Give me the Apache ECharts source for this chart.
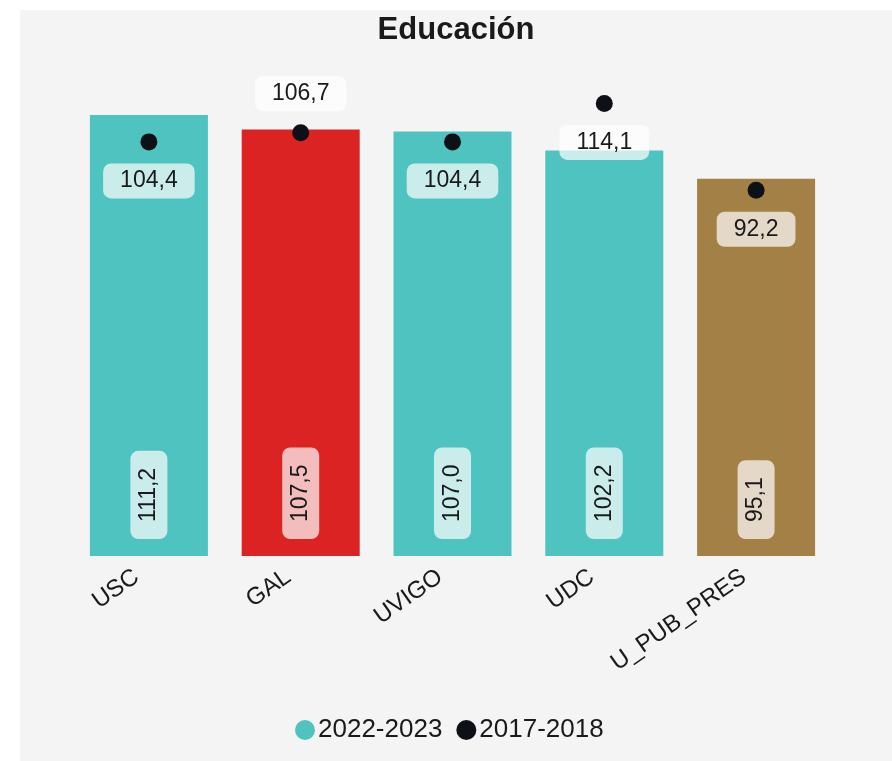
<!DOCTYPE html>
<html>
<head>
<meta charset="utf-8">
<script src="https://cdn.jsdelivr.net/npm/echarts@6/dist/echarts.min.js"></script>
<style>
  html, body { margin: 0; padding: 0; background: #ffffff; }
  #chart { position: absolute; left: 20px; top: 10px; width: 872px; height: 751px; background: #f4f4f4; }
</style>
</head>
<body>
<div id="chart"></div>
<script>
const title = 'Educación';
const categories = ['USC', 'GAL', 'UVIGO', 'UDC', 'U_PUB_PRES'];
const seriesNames = ['2022-2023', '2017-2018'];
const values2022 = [111.2, 107.5, 107.0, 102.2, 95.1];
const values2017 = [104.4, 106.7, 104.4, 114.1, 92.2];

const baseColor = '#4fc3bf';
const specialColors = { 'GAL': '#db2323', 'U_PUB_PRES': '#a38146' };
const dotColor = '#0d1117';
const labelAbove = { 'GAL': true };

const fmt = v => v.toFixed(1).replace('.', ',');
const FONT = '"Liberation Sans", Arial, sans-serif';

const chart = echarts.init(document.getElementById('chart'), null, { renderer: 'canvas' });
chart.setOption({
  backgroundColor: '#f4f4f4',
  animation: false,
  title: {
    text: title,
    left: 'center',
    top: 0,
    padding: [5, 5],
    textStyle: { fontFamily: FONT, fontSize: 31, fontWeight: 'bold', color: '#1a1a1a' }
  },
  legend: {
    data: seriesNames,
    left: 270,
    top: 702,
    icon: 'circle',
    itemWidth: 20,
    itemHeight: 20,
    itemGap: 14,
    textStyle: { fontFamily: FONT, fontSize: 26, color: '#1a1a1a', padding: [0, 0, 0, -2] }
  },
  grid: { left: 53, right: 60, top: 70, bottom: 205 },
  xAxis: {
    type: 'category',
    data: categories,
    axisLine: { show: false },
    axisTick: { show: false },
    axisLabel: {
      rotate: 35, margin: 10, fontFamily: FONT, fontSize: 24, color: '#1a1a1a', interval: 0,
      padding: [0, 15, 0, 0]
    }
  },
  yAxis: { type: 'value', min: 0, max: 120, show: false, splitLine: { show: false } },
  series: [
    {
      name: seriesNames[0],
      type: 'bar',
      barWidth: 118,
      itemStyle: { color: baseColor },
      data: values2022.map((v, i) => ({
        value: v,
        itemStyle: { color: specialColors[categories[i]] || baseColor }
      })),
      label: {
        show: true,
        position: 'insideBottom',
        rotate: 90,
        align: 'left',
        verticalAlign: 'middle',
        distance: 17,
        formatter: p => fmt(p.value),
        fontFamily: FONT,
        fontSize: 23,
        color: '#1a1a1a',
        backgroundColor: 'rgba(255,255,255,0.7)',
        borderRadius: 8,
        padding: [7, 17]
      },
      z: 2
    },
    {
      name: seriesNames[1],
      type: 'scatter',
      symbol: 'circle',
      symbolSize: 17,
      itemStyle: { color: dotColor, opacity: 1 },
      data: values2017.map((v, i) => ({
        value: v,
        label: { position: labelAbove[categories[i]] ? 'top' : 'bottom' }
      })),
      label: {
        show: true,
        position: 'bottom',
        distance: 13,
        formatter: p => fmt(p.value),
        fontFamily: FONT,
        fontSize: 23,
        color: '#1a1a1a',
        backgroundColor: 'rgba(255,255,255,0.7)',
        borderRadius: 8,
        padding: [6, 17]
      },
      z: 3
    }
  ]
});
</script>
</body>
</html>
